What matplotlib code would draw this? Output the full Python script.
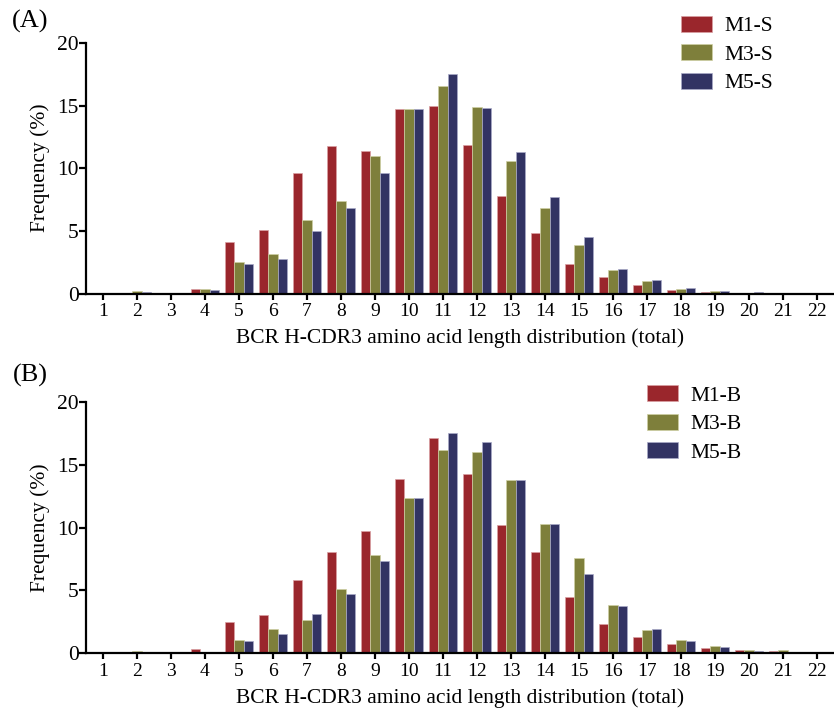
import numpy
import matplotlib
matplotlib.use("Agg")
import matplotlib.pyplot as plt
from matplotlib.patches import Patch

plt.rcParams['font.family'] = ['Liberation Serif', 'DejaVu Serif']

lengths = list(range(1, 23))

# panel A, serum samples
m1_s = [0, 0.05, 0, 0.4, 4.1, 5.05, 9.65, 11.8, 11.4, 14.7, 14.95,
        11.9, 7.8, 4.85, 2.35, 1.3, 0.7, 0.3, 0.15, 0, 0, 0]
m3_s = [0, 0.2, 0, 0.35, 2.5, 3.2, 5.9, 7.4, 11.0, 14.7, 16.6,
        14.9, 10.55, 6.8, 3.85, 1.9, 1.0, 0.4, 0.2, 0, 0, 0]
m5_s = [0, 0.15, 0, 0.3, 2.4, 2.75, 5.0, 6.8, 9.6, 14.75, 17.5,
        14.8, 11.3, 7.7, 4.55, 2.0, 1.1, 0.45, 0.25, 0.1, 0, 0]

# panel B
m1_b = [0, 0.1, 0, 0.35, 2.45, 3.0, 5.85, 8.05, 9.75, 13.9, 17.15,
        14.25, 10.25, 8.05, 4.5, 2.35, 1.3, 0.7, 0.4, 0.2, 0.15, 0]
m3_b = [0, 0.15, 0.1, 0, 1.05, 1.95, 2.6, 5.1, 7.85, 12.35, 16.2,
        16.05, 13.8, 10.3, 7.55, 3.8, 1.8, 1.05, 0.55, 0.2, 0.2, 0.1]
m5_b = [0, 0, 0, 0.1, 0.97, 1.48, 3.1, 4.7, 7.35, 12.35, 17.55,
        16.85, 13.8, 10.3, 6.3, 3.75, 1.95, 0.95, 0.5, 0.15, 0.1, 0]

colors = ['#9a262c', '#7e7f3b', '#323363']
edges = ['#d9a0a3', '#cfd0a4', '#a9aac8']
fs = 15.5


def draw_panel(ax, series, names, legend_anchor):
    x = numpy.array(lengths)
    w = 0.28
    for i, vals in enumerate(series):
        ax.bar(x + (i - 1) * w, vals, width=w, color=colors[i],
               edgecolor=edges[i], linewidth=0.5)
    ax.set_xlim(0.5, 22.5)
    ax.set_ylim(0, 20)
    ax.set_xticks(lengths)
    ax.set_yticks([0, 5, 10, 15, 20])
    for s in ['top', 'right']:
        ax.spines[s].set_visible(False)
    for s in ['left', 'bottom']:
        ax.spines[s].set_linewidth(1.6)
    ax.tick_params(axis='x', direction='out', length=4.5, width=1.6,
                   labelsize=14, pad=2.5)
    ax.tick_params(axis='y', direction='out', length=4.8, width=1.6,
                   labelsize=fs, pad=0.3)
    ax.set_xlabel('BCR H-CDR3 amino acid length distribution (total)',
                  fontsize=fs, labelpad=6)
    handles = [Patch(facecolor=colors[i], edgecolor=edges[i], linewidth=0.5)
               for i in range(3)]
    ax.figure.legend(handles, names, loc='upper left',
                     bbox_to_anchor=legend_anchor, frameon=False,
                     fontsize=fs, handlelength=1.44, handleheight=0.75,
                     handletextpad=0.6, labelspacing=0.38,
                     borderpad=0, borderaxespad=0)


fig = plt.figure(figsize=(8.34, 7.24), dpi=100)
W, H = 834.0, 724.0
ax_a = fig.add_axes([86 / W, 1 - 293.7 / H, 748 / W, 250.7 / H])
ax_b = fig.add_axes([86 / W, 1 - 653 / H, 748 / W, 250.7 / H])

draw_panel(ax_a, [m1_s, m3_s, m5_s], ['M1-S', 'M3-S', 'M5-S'],
           (681 / W, 1 - 15.8 / H))
draw_panel(ax_b, [m1_b, m3_b, m5_b], ['M1-B', 'M3-B', 'M5-B'],
           (647 / W, 1 - 385.3 / H))

fig.text(40 / W, 1 - 168 / H, 'Frequency (%)', rotation=90,
         ha='center', va='center', fontsize=fs)
fig.text(40 / W, 1 - 528 / H, 'Frequency (%)', rotation=90,
         ha='center', va='center', fontsize=fs)
fig.text(30 / W, 1 - 21 / H, '(A)', ha='center', va='center', fontsize=19)
fig.text(30 / W, 1 - 375 / H, '(B)', ha='center', va='center', fontsize=19)

fig.savefig('out.png', dpi=100)
